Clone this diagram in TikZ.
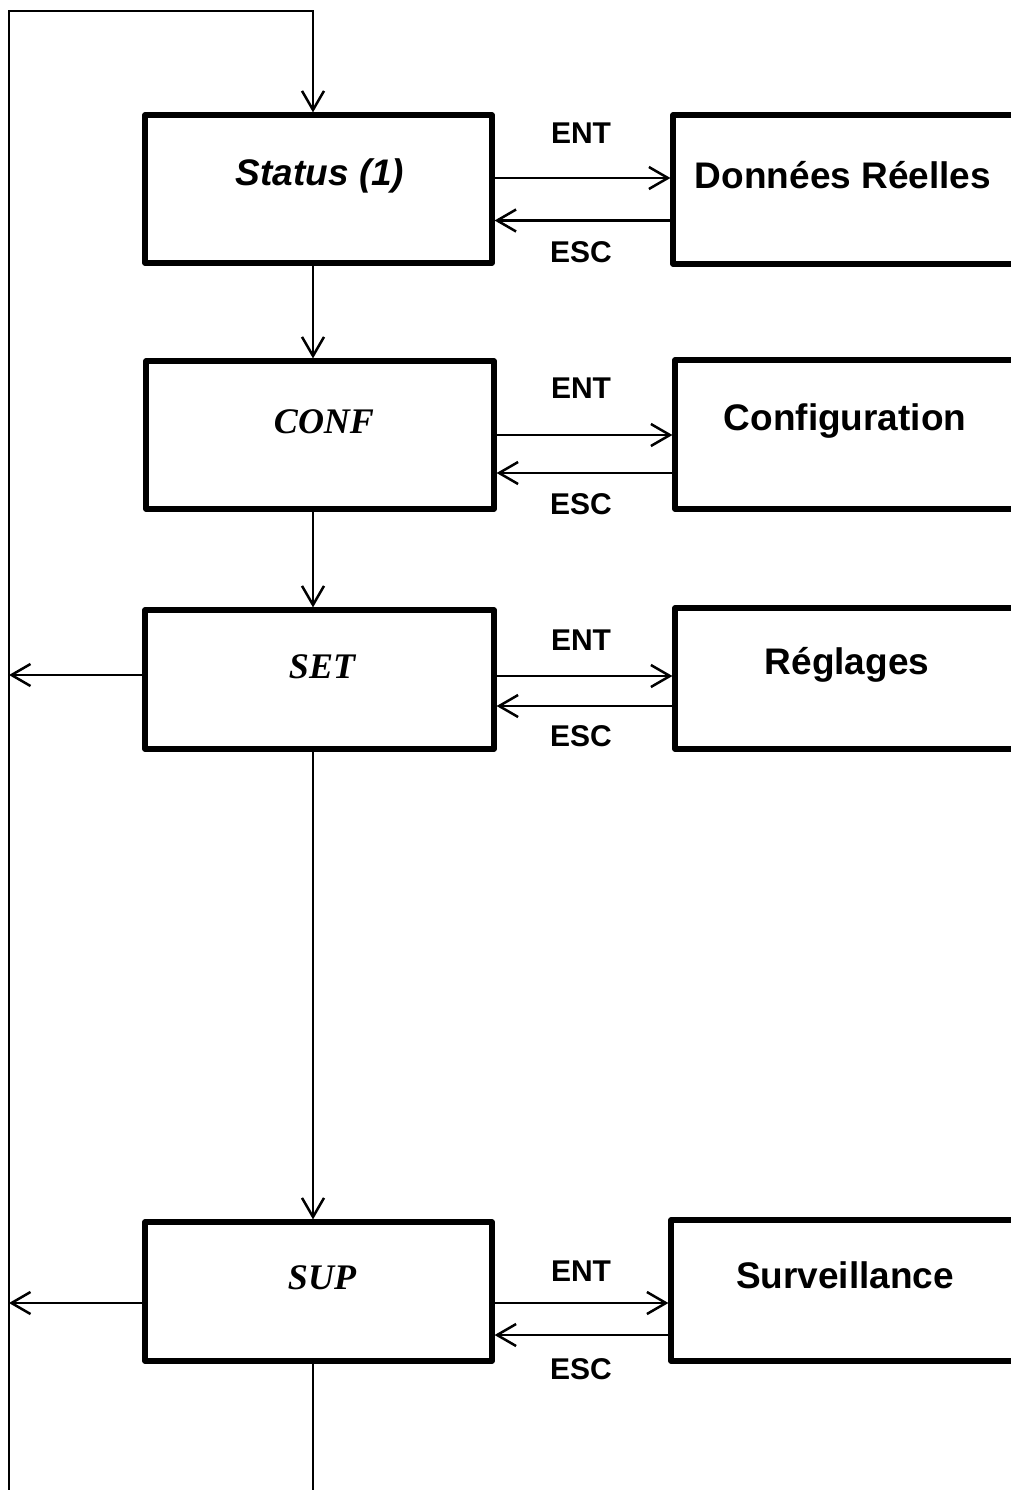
\documentclass[tikz,border=0pt]{standalone}
\usepackage{fontspec}
\setmainfont{Liberation Sans}
\newfontfamily\serifbi{Liberation Serif}
\usetikzlibrary{arrows.meta}
\begin{document}
\begin{tikzpicture}[x=1pt,y=-1pt,
  lbox/.style={draw, line width=5.2pt, line join=round, rectangle, inner sep=0pt},
  rbox/.style={draw, line width=5.2pt, line join=round, rectangle, inner sep=0pt},
  conn/.style={line width=2.5pt},
  arr/.style={conn, -{Straight Barb[length=19pt,width=22pt]}},
  lbl/.style={inner sep=0pt, font=\fontsize{37}{40}\selectfont\bfseries},
  key/.style={inner sep=0pt, font=\fontsize{30}{32}\selectfont\bfseries},
  menu/.style={inner sep=0pt, font=\fontsize{36}{38}\selectfont\serifbi\bfseries\itshape}]
\useasboundingbox (0,0) rectangle (1011,1490);
% left boxes
\node[lbox, minimum width=347pt, minimum height=148pt] (s1) at (318.5,189) {};
\node[lbox, minimum width=348pt, minimum height=148pt] (conf) at (320,435) {};
\node[lbox, minimum width=349pt, minimum height=139pt] (set) at (319.5,679.5) {};
\node[lbox, minimum width=347pt, minimum height=139pt] (sup) at (318.5,1291.5) {};
% right boxes (cut by the page edge)
\node[rbox, minimum width=367pt, minimum height=149pt] (dr) at (856.5,189.5) {};
\node[rbox, minimum width=365pt, minimum height=149pt] (cfg) at (857.5,434.5) {};
\node[rbox, minimum width=365pt, minimum height=141pt] (reg) at (857.5,678.5) {};
\node[rbox, minimum width=369pt, minimum height=141pt] (sur) at (855.5,1290.5) {};
% texts
\node[lbl, font=\fontsize{37}{40}\selectfont\bfseries\itshape] (t1) at (320,176) {Status (1)};
\node[menu] (tconf) at (324,422) {CONF};
\node[menu] (tset) at (322,667) {SET};
\node[menu] (tsup) at (322,1278) {SUP};
\node[lbl] (tdr) at (843,175) {Données Réelles};
\node[lbl] (tcfg) at (845,421) {Configuration};
\node[lbl] (treg) at (847,665) {Réglages};
\node[lbl] (tsur) at (845,1275) {Surveillance};
\node[key] (e1) at (581,133) {ENT};
\node[key] (x1) at (581,252) {ESC};
\node[key] (e2) at (581,388) {ENT};
\node[key] (x2) at (581,504) {ESC};
\node[key] (e3) at (581,640) {ENT};
\node[key] (x3) at (581,736) {ESC};
\node[key] (e4) at (581,1271) {ENT};
\node[key] (x4) at (581,1369) {ESC};
% loop coordinates
\coordinate (tl) at (9,11);
\coordinate (bl) at (9,1500);
\coordinate (spine) at (313,0);
\coordinate (bot) at (313,1500);
% main loop
\draw[arr] (bl) -- (tl) -- (spine |- tl) -- (spine |- s1.north);
\draw[arr] (spine |- s1.south) -- (spine |- conf.north);
\draw[arr] (spine |- conf.south) -- (spine |- set.north);
\draw[arr] (spine |- set.south) -- (spine |- sup.north);
\draw[conn] (spine |- sup.south) -- (bot);
% left exits
\coordinate (setw) at ([yshift=4.5pt]set.west);
\coordinate (supw) at ([yshift=-11.5pt]sup.west);
\draw[arr] (setw) -- (setw -| tl);
\draw[arr] (supw) -- (supw -| tl);
% ENT / ESC arrows
\coordinate (a1) at ([yshift=11pt]s1.east);
\coordinate (b1) at ([yshift=-31pt]dr.west);
\draw[arr] (a1) -- (a1 -| dr.west);
\draw[arr] (b1) -- (b1 -| s1.east);
\coordinate (a2) at ([yshift=0pt]conf.east);
\coordinate (b2) at ([yshift=-38.5pt]cfg.west);
\draw[arr] (a2) -- (a2 -| cfg.west);
\draw[arr] (b2) -- (b2 -| conf.east);
\coordinate (a3) at ([yshift=3.5pt]set.east);
\coordinate (b3) at ([yshift=-27.5pt]reg.west);
\draw[arr] (a3) -- (a3 -| reg.west);
\draw[arr] (b3) -- (b3 -| set.east);
\coordinate (a4) at ([yshift=-11.5pt]sup.east);
\coordinate (b4) at ([yshift=-44.5pt]sur.west);
\draw[arr] (a4) -- (a4 -| sur.west);
\draw[arr] (b4) -- (b4 -| sup.east);
\end{tikzpicture}
\end{document}
